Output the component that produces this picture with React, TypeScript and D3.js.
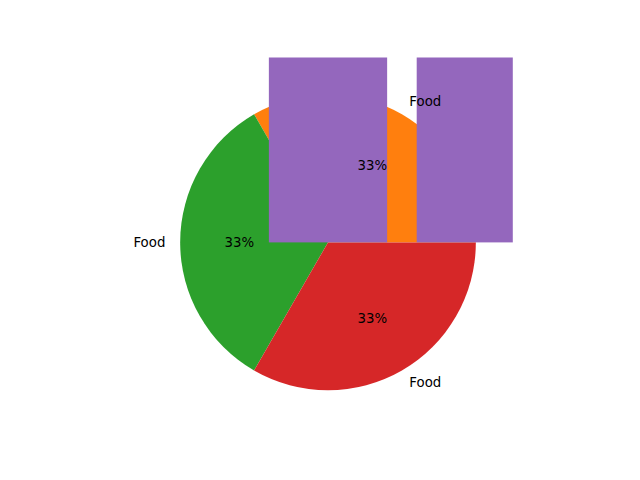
import React from "react";
import * as d3 from "d3";

const pieLabels = ["Food", "Food", "Food"];
const pieValues = [1, 1, 1];
const pieColors = ["#ff7f0e", "#2ca02c", "#d62728"];
const barPositions = [0, 1];
const barValues = [3, 3];
const barColor = "#9467bd";

const W = 640;
const H = 480;
const axTop = 57.6;
const axBottom = 427.2;
const cx = 328;
const half = (axBottom - axTop) / 2;
const axLeft = cx - half;
const axRight = cx + half;

export default function App() {
  const x = d3.scaleLinear().domain([-1.25, 1.25]).range([axLeft, axRight]);
  const y = d3.scaleLinear().domain([-1.25, 1.25]).range([axBottom, axTop]);
  const r = x(1) - x(0);
  const cy = y(0);

  const pie = d3
    .pie<number>()
    .sort(null)
    .value((d) => d)
    .startAngle(Math.PI / 2)
    .endAngle(Math.PI / 2 - 2 * Math.PI);
  const arcs = pie(pieValues);
  const arc = d3.arc<d3.PieArcDatum<number>>().innerRadius(0).outerRadius(r);

  const font = "DejaVu Sans, sans-serif";
  const fs = 13.33;
  const barW = 0.8;

  return (
    <svg
      width={W}
      height={H}
      style={{ position: "absolute", left: 0, top: 0, background: "#fff" }}
      fontFamily={font}
    >
      <defs>
        <clipPath id="axclip">
          <rect x={axLeft} y={axTop} width={axRight - axLeft} height={axBottom - axTop} />
        </clipPath>
      </defs>
      <g transform={`translate(${cx},${cy})`}>
        {arcs.map((a, i) => (
          <path key={i} d={arc(a) || ""} fill={pieColors[i]} />
        ))}
      </g>
      <g clipPath="url(#axclip)">
        {barPositions.map((p, i) => (
          <rect
            key={i}
            x={x(p - barW / 2)}
            width={x(p + barW / 2) - x(p - barW / 2)}
            y={y(barValues[i])}
            height={y(0) - y(barValues[i])}
            fill={barColor}
          />
        ))}
      </g>
      <g transform={`translate(${cx},${cy})`} fontSize={fs} fill="#000">
        {arcs.map((a, i) => {
          const mid = (a.startAngle + a.endAngle) / 2;
          const lx = 1.1 * r * Math.sin(mid);
          const ly = -1.1 * r * Math.cos(mid);
          const px = 0.6 * r * Math.sin(mid);
          const py = -0.6 * r * Math.cos(mid);
          const pct = (100 * pieValues[i]) / d3.sum(pieValues);
          return (
            <g key={i}>
              <text
                x={lx}
                y={ly}
                dy="0.32em"
                textAnchor={lx > 0.001 ? "start" : lx < -0.001 ? "end" : "middle"}
              >
                {pieLabels[i]}
              </text>
              <text x={px} y={py} dy="0.32em" textAnchor="middle">
                {`${pct.toFixed(0)}%`}
              </text>
            </g>
          );
        })}
      </g>
    </svg>
  );
}
